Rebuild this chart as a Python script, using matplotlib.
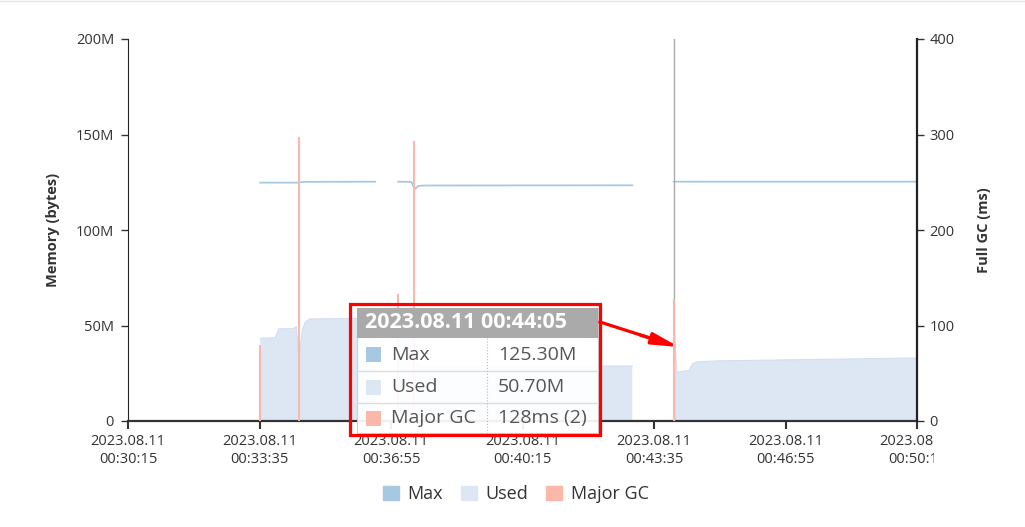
import numpy as np
import matplotlib.pyplot as plt
from matplotlib.patches import Rectangle, Patch
from matplotlib.lines import Line2D
from matplotlib.transforms import Bbox
import datetime as dt

plt.rcParams['font.family'] = ['Open Sans', 'Noto Sans', 'DejaVu Sans']

# seconds after the first tick
base = dt.datetime(2023, 8, 11, 0, 30, 15)
tick_secs = [0, 200, 400, 600, 800, 1000, 1200]

# Max heap (M), NaN = gap
t_max = [201, 258, 262, 268, 376, 393, 411, 431, 434, 437, 441, 450, 767, 800, 830, 1200]
max_m = [124.8, 124.8, 125.0, 125.2, 125.3, np.nan, 125.3, 125.2, 123.0, 121.5, 123.0, 123.3, 123.4, np.nan, 125.3, 125.3]

# Used heap (M)
t_used = [201, 224, 229, 251, 256, 260, 265, 270, 277, 376, 393, 411, 433, 437, 445, 767, 800,
          830, 835, 839, 853, 859, 866, 900, 1200]
used_m = [43.3, 43.6, 48.2, 48.4, 49.4, 31.9, 47.6, 52.0, 53.4, 53.8, np.nan, 54.2, 54.5, 31.0, 28.8, 28.8, np.nan,
          50.7, 25.5, 25.8, 26.5, 30.0, 31.0, 31.5, 33.0]

# Major GC pauses (ms)
t_gc = [201, 260, 411, 435, 830]
gc_ms = [80, 297, 133, 293, 128]

pointer_t = 830
tip_title = '2023.08.11 00:44:05'
tip_rows = [('Max', '125.30M'), ('Used', '50.70M'), ('Major GC', '128ms (2)')]

c_max = '#a7c8e1'
c_used = '#dde7f4'
c_gc = '#fbb7aa'
c_txt = '#333333'

W, H = 1025, 527
fig = plt.figure(figsize=(W / 100, H / 100), dpi=100)
ax = fig.add_axes([128 / W, 1 - 421 / H, (917 - 128) / W, (421 - 39) / H])
ax2 = ax.twinx()

def fx(x):
    return x / W

def fy(y):
    return 1 - y / H

t_used_a = np.array(t_used, float)
used_a = np.array(used_m, float)
ax.fill_between(t_used_a, used_a, 0, where=~np.isnan(used_a), color=c_used, lw=0, interpolate=False)
ax.plot(t_used_a, used_a, color='#d3dff0', lw=0.8)
ax.plot(t_max, max_m, color=c_max, lw=1.3)

ax2.vlines(t_gc, 0, gc_ms, color=c_gc, lw=1.5)
ax.axvline(pointer_t, color='#aaaaaa', lw=1, zorder=5)

ax.set_xlim(0, 1200)
ax.set_ylim(0, 200)
ax2.set_ylim(0, 400)
ax.set_yticks([0, 50, 100, 150, 200])
ax.set_yticklabels(['0', '50M', '100M', '150M', '200M'])
ax2.set_yticks([0, 100, 200, 300, 400])
ax.set_xticks(tick_secs)
ax.set_xticklabels([])

for a in (ax, ax2):
    a.spines['top'].set_visible(False)
    a.tick_params(colors=c_txt, labelsize=10.5, length=5, width=1)
ax.spines['left'].set_color('#222222')
ax2.spines['right'].set_color('#222222')
ax2.spines['right'].set_linewidth(1.6)
ax.spines['right'].set_visible(False)
ax2.spines['left'].set_visible(False)
ax2.spines['bottom'].set_visible(False)
ax.spines['bottom'].set_color('#333333')
ax.spines['bottom'].set_linewidth(1.6)
ax.tick_params(axis='x', length=6, width=1.5)
ax.tick_params(axis='y', pad=5)
ax2.tick_params(axis='y', pad=4)

ax.set_ylabel('Memory (bytes)', fontsize=10.5, fontweight='bold', color=c_txt, labelpad=11)
ax2.set_ylabel('Full GC (ms)', fontsize=10.5, fontweight='bold', color=c_txt, labelpad=16)

# x tick labels, last one clipped at the canvas edge like the original
clip = Bbox([[0, 0], [934, H]])
for s in tick_secs:
    lab = (base + dt.timedelta(seconds=s)).strftime('%Y.%m.%d\n%H:%M:%S')
    t = ax.text(s, -0.033, lab, transform=ax.get_xaxis_transform(), ha='center', va='top',
                fontsize=10.5, color=c_txt, linespacing=1.35)
    if s == tick_secs[-1]:
        t.set_clip_box(clip)
        t.set_clip_on(True)

# legend
handles = [Patch(color=c_max), Patch(color=c_used), Patch(color=c_gc)]
fig.legend(handles, ['Max', 'Used', 'Major GC'], loc='center', bbox_to_anchor=(fx(516), fy(494)),
           ncol=3, frameon=False, fontsize=13, handlelength=0.85, handleheight=0.85,
           handletextpad=0.5, columnspacing=1.0, labelcolor='#333333')

# top border of page
fig.add_artist(Line2D([0, 1], [fy(1), fy(1)], color='#e6e6e6', lw=1))

# tooltip
x0, x1, y0, y1 = 357, 598, 308, 433
fig.add_artist(Rectangle((fx(x0), fy(y1)), fx(x1 - x0), (y1 - y0) / H, transform=fig.transFigure,
                         facecolor='white', alpha=0.93, edgecolor='#cccccc', lw=0.8, zorder=10))
fig.add_artist(Rectangle((fx(x0), fy(338)), fx(x1 - x0), 30 / H, transform=fig.transFigure,
                         facecolor='#aaaaaa', edgecolor='none', zorder=11))
fig.text(fx(365), fy(323), tip_title, color='white', fontsize=15.5, fontweight='bold',
         va='center', ha='left', zorder=12)
row_y = [338, 371, 403, 433]
sw = [c_max, c_used, c_gc]
for i, (name, val) in enumerate(tip_rows):
    yc = (row_y[i] + row_y[i + 1]) / 2
    if i > 0:
        fig.add_artist(Line2D([fx(x0), fx(x1)], [fy(row_y[i])] * 2, color='#dddddd', lw=1, zorder=11))
    fig.add_artist(Rectangle((fx(366), fy(yc + 7.5)), 15 / W, 15 / H, transform=fig.transFigure,
                             facecolor=sw[i], edgecolor='none', zorder=12))
    fig.text(fx(391), fy(yc), name, color='#555555', fontsize=14, va='center', ha='left', zorder=12)
    fig.text(fx(498), fy(yc), val, color='#555555', fontsize=14, va='center', ha='left', zorder=12)
fig.add_artist(Line2D([fx(487)] * 2, [fy(338), fy(433)], color='#bbbbbb', lw=0.8, ls=':', zorder=11))

# red highlight box and arrow
fig.add_artist(Rectangle((fx(350), fy(435)), fx(250), 131 / H, transform=fig.transFigure,
                         facecolor='none', edgecolor='#ff0000', lw=2.3, zorder=13))
fig.add_artist(Line2D([fx(600), fx(650)], [fy(322), fy(338)], color='#ff0000', lw=2.3, zorder=13))
ax.annotate('', xy=(fx(679), fy(347)), xytext=(fx(640), fy(335)),
            xycoords='figure fraction', textcoords='figure fraction',
            arrowprops=dict(arrowstyle='-|>,head_length=1.6,head_width=0.35', color='#ff0000', lw=2.3,
                            shrinkA=0, shrinkB=0), zorder=13, annotation_clip=False)

fig.savefig('out.png', dpi=100)
